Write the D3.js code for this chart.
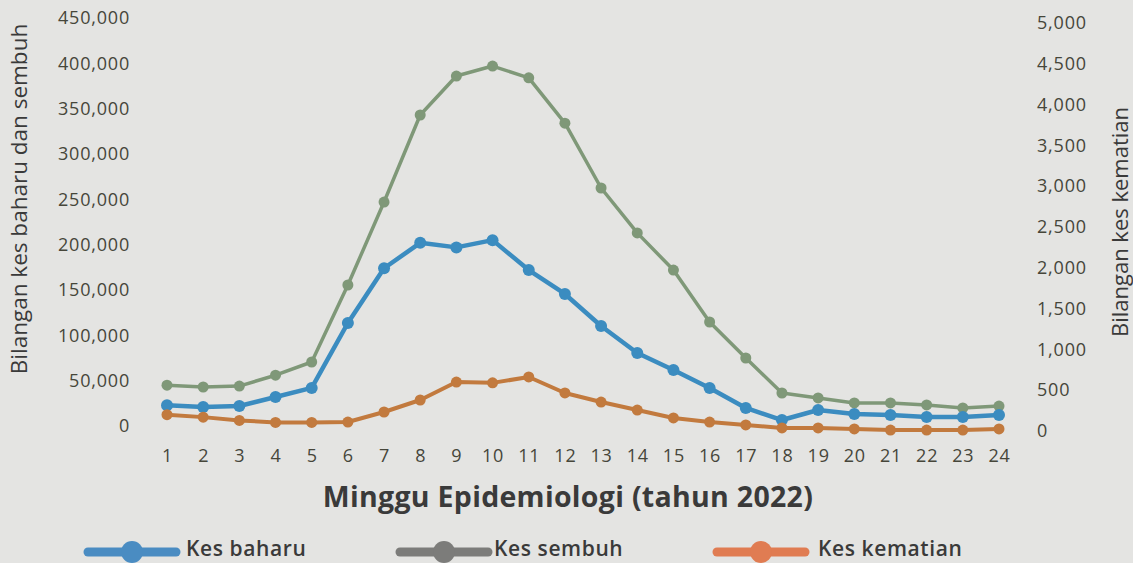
<!DOCTYPE html>
<html>
<head>
<meta charset="utf-8">
<script src="https://cdn.jsdelivr.net/npm/d3@7"></script>
<style>
  html, body { margin: 0; padding: 0; background: #e4e4e2; }
  svg { display: block; }
  text { font-family: "Open Sans", "Noto Sans", sans-serif; }
</style>
</head>
<body>
<svg id="chart" width="1133" height="563"></svg>
<script>
// ---- data ----
const weeks = d3.range(1, 25);
const kesBaharu = [23000, 21000, 22000, 32000, 42000, 113600, 174000, 202000, 197000, 205000, 172000, 145600, 110300, 80500, 61800, 41900, 19900, 6600, 17600, 13200, 12100, 9900, 9900, 12100];
const kesSembuh = [45000, 43000, 44000, 56000, 70600, 155500, 247000, 343000, 386000, 397000, 384000, 334000, 262500, 213000, 172000, 114700, 75000, 36400, 30900, 25400, 25400, 23200, 19900, 22000];
const kesKematian = [200, 170, 130, 105, 105, 110, 233, 380, 600, 590, 662, 466, 355, 257, 160, 110, 74, 37, 37, 25, 12, 12, 12, 25];
const leftTicks = [0, 50000, 100000, 150000, 200000, 250000, 300000, 350000, 400000, 450000];
const rightTicks = [0, 500, 1000, 1500, 2000, 2500, 3000, 3500, 4000, 4500, 5000];
const seriesNames = ["Kes baharu", "Kes sembuh", "Kes kematian"];
const leftTitle = "Bilangan kes baharu dan sembuh";
const rightTitle = "Bilangan kes kematian";
const xTitle = "Minggu Epidemiologi (tahun 2022)";

// ---- styles ----
const colBlue = "#3b8cc0", colGreen = "#7f9878", colOrange = "#c27a3e";
const legendCols = ["#4a8cc2", "#7c7c7a", "#e07c52"];
const tickColor = "#46463a", textColor = "#3a3a3a";

const svg = d3.select("#chart");

const x = d3.scaleLinear().domain([1, 24]).range([167, 999]);
const yL = d3.scaleLinear().domain([0, 450000]).range([426, 18]);
const yR = d3.scaleLinear().domain([0, 5000]).range([431, 23]);

// axes
const fmt = d3.format(",");
const gL = svg.append("g").attr("transform", "translate(130,0)")
  .call(d3.axisLeft(yL).tickValues(leftTicks).tickFormat(fmt).tickSize(0).tickPadding(0));
const gR = svg.append("g").attr("transform", "translate(1037,0)")
  .call(d3.axisRight(yR).tickValues(rightTicks).tickFormat(fmt).tickSize(0).tickPadding(0));
const gX = svg.append("g").attr("transform", "translate(0,449)")
  .call(d3.axisBottom(x).tickValues(weeks).tickFormat(d3.format("d")).tickSize(0).tickPadding(0));
[gL, gR, gX].forEach(g => {
  g.select(".domain").remove();
  g.selectAll("text")
    .style("font-family", "'Open Sans', sans-serif")
    .style("font-size", "18px")
    .style("letter-spacing", "0.8px")
    .attr("fill", tickColor);
});

// axis titles
svg.append("text")
  .attr("transform", "translate(27,199) rotate(-90)")
  .attr("text-anchor", "middle")
  .style("font-size", "22.5px")
  .attr("fill", textColor)
  .text(leftTitle);
svg.append("text")
  .attr("transform", "translate(1128,222) rotate(-90)")
  .attr("text-anchor", "middle")
  .style("font-size", "22px")
  .attr("fill", textColor)
  .text(rightTitle);
svg.append("text")
  .attr("x", 568).attr("y", 507)
  .attr("text-anchor", "middle")
  .style("font-size", "28.5px").style("font-weight", 700)
  .style("letter-spacing", "0.3px")
  .attr("fill", textColor)
  .text(xTitle);

// series
function drawSeries(values, yScale, color, lw, r) {
  const line = d3.line().x((d, i) => x(weeks[i])).y(d => yScale(d));
  svg.append("path").datum(values)
    .attr("d", line).attr("fill", "none")
    .attr("stroke", color).attr("stroke-width", lw)
    .attr("stroke-linejoin", "round");
  svg.append("g").selectAll("circle").data(values).join("circle")
    .attr("cx", (d, i) => x(weeks[i])).attr("cy", d => yScale(d))
    .attr("r", r).attr("fill", color);
}
drawSeries(kesSembuh, yL, colGreen, 3.5, 5.5);
drawSeries(kesBaharu, yL, colBlue, 4.5, 6);
drawSeries(kesKematian, yR, colOrange, 4, 5.5);

// legend
const legendX = [88, 400, 717];
const legendTextX = [186, 494, 818];
seriesNames.forEach((name, i) => {
  const g = svg.append("g");
  g.append("line")
    .attr("x1", legendX[i]).attr("x2", legendX[i] + 88)
    .attr("y1", 552).attr("y2", 552)
    .attr("stroke", legendCols[i]).attr("stroke-width", 9)
    .attr("stroke-linecap", "round");
  g.append("circle")
    .attr("cx", legendX[i] + 44).attr("cy", 552).attr("r", 11)
    .attr("fill", legendCols[i]);
  g.append("text")
    .attr("x", legendTextX[i]).attr("y", 556)
    .style("font-size", "21px").style("font-weight", 600)
    .style("letter-spacing", "0.6px")
    .attr("fill", textColor)
    .text(name);
});
</script>
</body>
</html>
